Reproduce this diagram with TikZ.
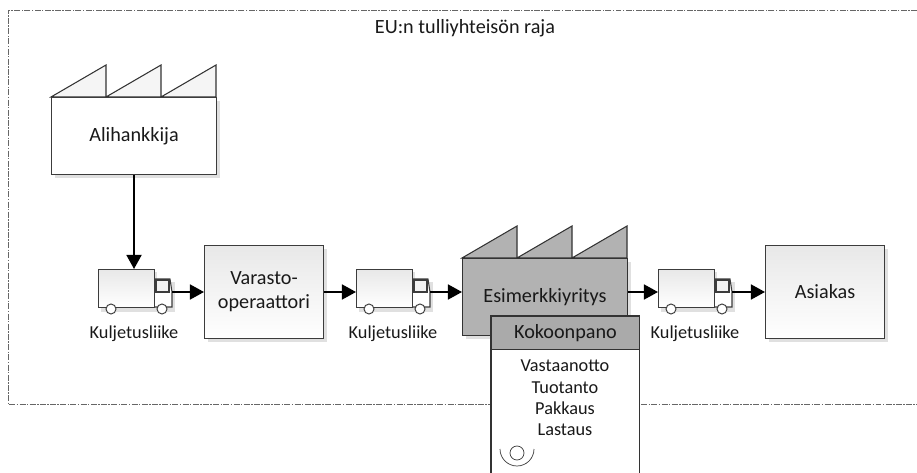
\documentclass[tikz,border=0pt]{standalone}
\usepackage{fontspec}
\setmainfont{Carlito}
\usetikzlibrary{arrows.meta}
\definecolor{plantgray}{RGB}{178,178,178}
\definecolor{headgray}{RGB}{170,170,170}
\definecolor{shadowgray}{RGB}{224,224,224}
\definecolor{linegray}{RGB}{60,60,60}
\tikzset{
  box/.style={draw=linegray, line width=0.6pt, top color=black!9, bottom color=white, anchor=north west, inner sep=0pt, align=center, lbl},
  graybox/.style={draw=black!80, line width=0.6pt, fill=plantgray, anchor=north west, inner sep=0pt, align=center, lbl},
  lbl/.style={font=\fontsize{11.5pt}{13.6pt}\selectfont, text=black!90},
  small/.style={font=\fontsize{10.4pt}{12.2pt}\selectfont, align=center, inner sep=0pt, text=black!90},
  flow/.style={line width=1.15pt, -{Triangle[length=8pt,width=8.5pt]}},
  outline/.style={line width=0.55pt, draw=black!60, dash pattern=on 3.4pt off 0.8pt on 0.8pt off 0.8pt}
}
\newcommand{\truck}[3]{% x, y, name
  \fill[shadowgray] (#1+3,#2+3) rectangle (#1+59,#2+43);
  \fill[shadowgray] (#1+59,#2+13) rectangle (#1+77,#2+43);
  \draw[linegray, line width=0.6pt, fill=white] (#1+56,#2+10) -- (#1+72,#2+10) -- (#1+74,#2+23) -- (#1+74,#2+38) -- (#1+56,#2+38) -- cycle;
  \draw[linegray, line width=0.7pt, fill=black!5] (#1+58,#2+11) rectangle (#1+71,#2+23);
  \node[box, minimum width=1.12cm, minimum height=0.76cm] (#3) at (#1,#2) {};
  \coordinate (#3in) at (#1,#2+23);
  \coordinate (#3out) at (#1+74,#2+23);
  \draw[linegray, fill=white, line width=0.55pt] (#1+13,#2+40) circle (0.1cm);
  \draw[linegray, fill=white, line width=0.55pt] (#1+64,#2+40) circle (0.1cm);
}
\newcommand{\plantroof}[3]{% x, y, colour
  \fill[shadowgray] (#1+4,#2+4) rectangle (#1+169,#2+81);
  \draw[black!80, line width=0.6pt, fill=#3] (#1,#2) -- (#1+55,#2-32) -- (#1+55,#2) -- (#1+110,#2-32) -- (#1+110,#2) -- (#1+165,#2-32) -- (#1+165,#2) -- cycle;
}
\begin{document}
\begin{tikzpicture}[x=0.02cm, y=-0.02cm]
  \useasboundingbox (0,0) rectangle (917,473);
  \draw[outline] (917,10) -- (8,10) -- (8,404) -- (917,404);
  \node[lbl, inner sep=0pt] (raja) at (465,28) {EU:n tulliyhteisön raja};

  % Alihankkija
  \plantroof{51}{97}{black!4}
  \node[box, minimum width=3.3cm, minimum height=1.54cm, top color=white] (ali) at (51,97) {Alihankkija};

  % trucks
  \truck{98}{269}{tA}
  \truck{356}{269}{tB}
  \truck{658}{269}{tC}
  \node[small] (kA) at (134,334) {Kuljetusliike};
  \node[small] (kB) at (393,334) {Kuljetusliike};
  \node[small] (kC) at (695,334) {Kuljetusliike};

  % boxes
  \fill[shadowgray] (208,249) rectangle (327,342);
  \node[box, minimum width=2.38cm, minimum height=1.86cm] (varasto) at (204,245) {Varasto-\\operaattori};
  \fill[shadowgray] (769,249) rectangle (888,342);
  \node[box, minimum width=2.38cm, minimum height=1.86cm] (asiakas) at (765,245) {Asiakas};

  % Esimerkkiyritys
  \plantroof{462}{258}{plantgray}
  \node[graybox, minimum width=3.3cm, minimum height=1.54cm] (esim) at (462,258) {Esimerkkiyritys};

  % Kokoonpano
  \node[fill=white, anchor=north west, minimum width=2.96cm, minimum height=3.14cm, inner sep=0pt] (kok) at (491,316) {};
  \draw[black!80, line width=0.6pt] (kok.south west) -- (kok.north west) -- (kok.north east) -- (kok.south east);
  \node[graybox, fill=headgray, minimum width=2.96cm, minimum height=0.66cm] (kokhead) at (491,316) {Kokoonpano};
  \node[small] (tasks) at (565,398) {Vastaanotto\\Tuotanto\\Pakkaus\\Lastaus};
  \node[draw=linegray, line width=0.4pt, circle, minimum size=0.28cm, inner sep=0pt] (tape) at (517,453) {};
  \draw[linegray, line width=0.4pt] (500,449) arc[start angle=180, end angle=360, x radius=17, y radius=-17];

  % flows
  \draw[flow] (ali.south) -- (ali.south |- tA.north);
  \draw[flow] (tAout) -- (varasto.west |- tAout);
  \draw[flow] (varasto.east |- tBin) -- (tBin);
  \draw[flow] (tBout) -- (esim.west |- tBout);
  \draw[flow] (esim.east |- tCin) -- (tCin);
  \draw[flow] (tCout) -- (asiakas.west |- tCout);
\end{tikzpicture}
\end{document}
